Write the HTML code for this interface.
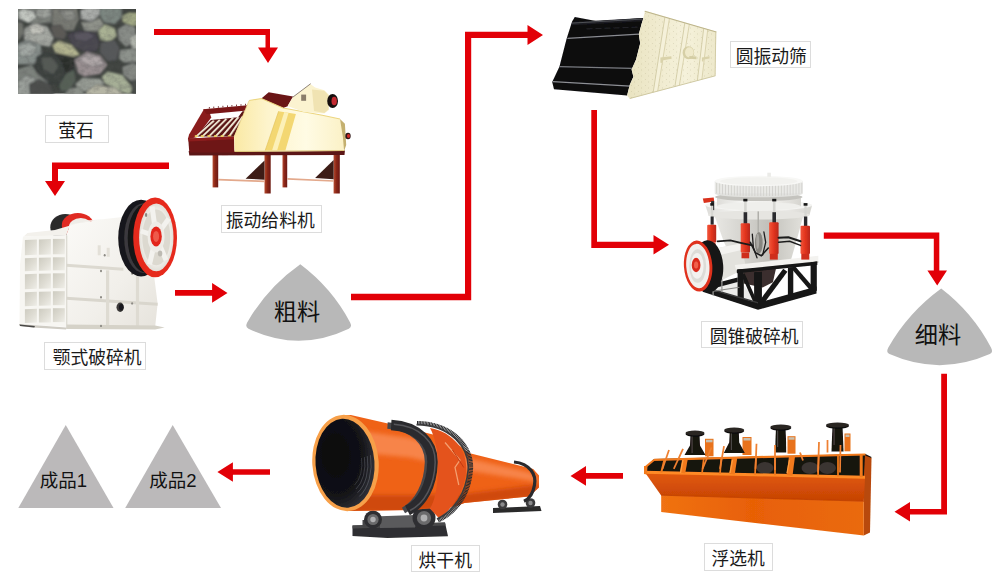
<!DOCTYPE html>
<html lang="zh-CN">
<head>
<meta charset="utf-8">
<title>萤石选矿工艺流程</title>
<style>
html,body{margin:0;padding:0;background:#fff;}
body{width:1000px;height:582px;overflow:hidden;position:relative;font-family:"Liberation Sans","Noto Sans CJK SC",sans-serif;}
svg{position:absolute;left:0;top:0;display:block;}
.lb{position:absolute;box-sizing:border-box;border:1px solid #dcdcdc;background:#fff;color:#1a1a1a;font-size:17.8px;line-height:30px;text-align:center;white-space:nowrap;height:27.5px;}
.pt{position:absolute;color:#111;white-space:nowrap;text-align:center;}
</style>
</head>
<body>
<svg width="1000" height="582" viewBox="0 0 1000 582">
<defs>
<filter id="rkb" x="-5%" y="-5%" width="110%" height="110%"><feGaussianBlur stdDeviation="0.9"/></filter>
<filter id="rkn" x="0" y="0" width="100%" height="100%"><feTurbulence type="fractalNoise" baseFrequency="0.16 0.2" numOctaves="3" seed="7" result="n"/><feColorMatrix in="n" type="matrix" values="0 0 0 0 0.1  0 0 0 0 0.1  0 0 0 0 0.1  0 0 0 -1.5 0.95"/></filter>
<clipPath id="rkc"><rect x="18" y="9" width="118" height="84.700"/></clipPath>
<filter id="sb4" x="-5%" y="-5%" width="110%" height="110%"><feGaussianBlur stdDeviation="0.45"/></filter>
<linearGradient id="fdleg" x1="0" x2="1" y1="0" y2="0"><stop offset="0" stop-color="#b54a30"/><stop offset="0.45" stop-color="#8a2618"/><stop offset="1" stop-color="#6a1a12"/></linearGradient>
<linearGradient id="fdbody" x1="0" x2="1" y1="0" y2="0"><stop offset="0" stop-color="#fae9a4"/><stop offset="0.3" stop-color="#fdf4cc"/><stop offset="0.65" stop-color="#fffbe4"/><stop offset="1" stop-color="#fbf1c6"/></linearGradient>

<linearGradient id="jwside" x1="0" x2="1" y1="0" y2="1"><stop offset="0" stop-color="#fbfaf7"/><stop offset="0.6" stop-color="#f1efea"/><stop offset="1" stop-color="#e6e3dc"/></linearGradient>
<linearGradient id="jwcell" x1="0" x2="1" y1="0" y2="1"><stop offset="0" stop-color="#cdcbc0"/><stop offset="0.55" stop-color="#dfddd4"/><stop offset="1" stop-color="#efeee8"/></linearGradient>
<radialGradient id="jwface" cx="0.5" cy="0.5" r="0.6"><stop offset="0" stop-color="#f7f6f2"/><stop offset="0.7" stop-color="#eceae4"/><stop offset="1" stop-color="#d4d1c8"/></radialGradient>

<linearGradient id="scpl" x1="0" x2="1" y1="0" y2="0"><stop offset="0" stop-color="#e9e3c0"/><stop offset="0.35" stop-color="#f0ebcf"/><stop offset="0.65" stop-color="#f5f1da"/><stop offset="1" stop-color="#ede8ca"/></linearGradient>
<pattern id="scsp" width="7" height="6" patternUnits="userSpaceOnUse"><rect x="1" y="1" width="0.8" height="0.7" fill="#a9a27c" opacity="0.45"/><rect x="4.300" y="3.600" width="0.7" height="0.8" fill="#b3ac86" opacity="0.6"/><rect x="5.800" y="0.8" width="0.6" height="0.6" fill="#fffdf0" opacity="0.8"/></pattern>

<linearGradient id="cnw" x1="0" x2="1" y1="0" y2="0"><stop offset="0" stop-color="#dddcd8"/><stop offset="0.3" stop-color="#f6f6f4"/><stop offset="0.7" stop-color="#efeeeb"/><stop offset="1" stop-color="#d6d5d0"/></linearGradient>
<linearGradient id="cnb" x1="0" x2="1" y1="0" y2="0"><stop offset="0" stop-color="#e9e8e4"/><stop offset="0.35" stop-color="#d3d2cd"/><stop offset="0.6" stop-color="#c2c1bb"/><stop offset="1" stop-color="#e2e1dc"/></linearGradient>
<linearGradient id="cnr" x1="0" x2="1" y1="0" y2="0"><stop offset="0" stop-color="#f2553a"/><stop offset="0.5" stop-color="#e2341e"/><stop offset="1" stop-color="#b8281a"/></linearGradient>

<linearGradient id="flf" x1="0" x2="0" y1="0" y2="1"><stop offset="0" stop-color="#e25a0c"/><stop offset="1" stop-color="#c54204"/></linearGradient>
<linearGradient id="fll" x1="0" x2="1" y1="0" y2="0"><stop offset="0" stop-color="#f07212"/><stop offset="0.45" stop-color="#e86006"/><stop offset="1" stop-color="#ea6a0e"/></linearGradient>

<filter id="drb" x="-10%" y="-10%" width="120%" height="120%"><feGaussianBlur stdDeviation="2.2"/></filter>
<radialGradient id="drin" cx="0.35" cy="0.4" r="0.75"><stop offset="0" stop-color="#08080c"/><stop offset="0.6" stop-color="#121216"/><stop offset="1" stop-color="#3a3b42"/></radialGradient>
<clipPath id="drc"><polygon points="342.5,415.5 350.8,415.0 389.0,423.8 435.0,435.0 455.0,442.0 468.8,453.0 533.2,469.0 539.0,475.5 539.0,487.5 529.0,496.5 464.5,503.0 455.0,506.5 410.0,510.0 346.2,511.0"/></clipPath>
</defs>
<!-- ARROWS -->
<g id="arrows" fill="#e20007">
  <!-- a1 -->
  <path d="M154 29h116v18.500h8l-10 15.500l-10-15.500h7.500v-12.500h-111.500z"/>
  <!-- a2 -->
  <path d="M169 162.500h-117v18.500h-7l10 15l10-15h-7v-12h111z"/>
  <!-- a3 -->
  <path d="M175 290h37.100v-7l15.400 9.900l-15.400 9.900v-7h-37.100z"/>
  <!-- a4 -->
  <path d="M351 293.800h114v-262.100h62.500v-6.700l15.500 10l-15.500 10v-7h-56.300v262.200h-120.200z"/>
  <!-- a5 -->
  <path d="M591.300 110h5.700v131.800h56.500v-6.800l15.500 9.800l-15.500 9.800v-6.600h-62.200z"/>
  <!-- a6 -->
  <path d="M823.800 232.500h115.500v38h7.700l-9.800 15l-9.800-15h6.400v-31.800h-110z"/>
  <!-- a7 -->
  <path d="M941.200 373.800h5.800v140.700h-37v7l-15.500-9.750l15.500-9.750v7h31.200z"/>
  <!-- a8 -->
  <path d="M623 473h-37v-7l-15.500 9.900l15.500 9.900v-7h37z"/>
  <!-- a9 -->
  <path d="M270 469.200h-37.100v-7l-15.500 9.800l15.500 9.800v-7h37.100z"/>
</g>
<!-- PILES -->
<g id="piles" fill="#b8b8b8">
  <path d="M300.3 264.3 Q331.7 287.8 350.1 322.4 Q352.5 327.1 348.8 328.7 Q298.6 352.7 248.5 328.7 Q244.8 327.1 247.2 322.4 Q267.4 287.5 300.3 264.3z"/>
  <path d="M941.2 288.6 Q972.7 312.7 991.1 347.8 Q993.5 352.5 989.8 354.1 Q939.6 376.3 889.5 354.1 Q885.8 352.5 888.2 347.8 Q908.3 312.5 941.2 288.6z"/>
  <path fill="#bbb9ba" d="M65.750 425L113.500 508H18.300z"/>
  <path fill="#bbb9ba" d="M172.700 425L221 508H125.200z"/>
</g>
<!-- MACHINES -->
<g id="rock">
<g clip-path="url(#rkc)"><rect x="18" y="9" width="118" height="84.700" fill="#3f433f"/>
<g filter="url(#rkb)" stroke-linejoin="round" transform="translate(77 51.35) scale(1.05) translate(-77 -51.35)">
<polygon fill="#7d817b" stroke="#23262a" stroke-opacity="0.4" stroke-width="0.9" points="18.1,8.9 54.7,8.9 52.9,24.0 37.5,25.8 18.1,20.6"/>
<polygon fill="#c3c7c1" stroke="#23262a" stroke-opacity="0.4" stroke-width="0.9" points="20.7,14.6 26.3,10.7 35.8,13.4 38.3,19.2 30.6,24.4 22.9,20.6"/>
<polygon fill="#9da19b" stroke="#23262a" stroke-opacity="0.4" stroke-width="0.9" points="38.3,11.2 51.2,10.3 52.9,17.2 44.4,20.6 37.5,17.2"/>
<polygon fill="#6f726c" stroke="#23262a" stroke-opacity="0.4" stroke-width="0.9" points="18.1,22.3 25.5,24.0 27.2,34.4 20.3,42.1 18.1,41.2"/>
<polygon fill="#a5a8a2" stroke="#23262a" stroke-opacity="0.4" stroke-width="0.9" points="27.2,29.2 35.8,24.0 48.7,27.5 55.0,38.7 51.2,47.2 39.2,45.0 26.3,40.4"/>
<polygon fill="#c2c3bb" stroke="#23262a" stroke-opacity="0.4" stroke-width="0.9" points="30.6,27.5 39.2,24.9 46.9,29.2 44.4,34.4 34.0,35.2"/>
<polygon fill="#7a7c75" stroke="#23262a" stroke-opacity="0.4" stroke-width="0.9" points="53.8,10.3 77.0,9.4 79.1,20.6 73.9,31.8 61.5,31.8 52.9,25.8"/>
<polygon fill="#8e908a" stroke="#23262a" stroke-opacity="0.4" stroke-width="0.9" points="59.8,12.9 73.6,12.0 76.1,20.6 66.7,22.3"/>
<polygon fill="#a9aca9" stroke="#23262a" stroke-opacity="0.4" stroke-width="0.9" points="80.1,12.0 85.6,9.4 99.3,9.4 98.5,17.2 90.7,23.2 80.4,20.6"/>
<polygon fill="#7c8680" stroke="#23262a" stroke-opacity="0.4" stroke-width="0.9" points="99.3,9.4 119.9,10.0 119.9,18.9 113.1,25.8 102.8,24.0 98.5,17.2"/>
<polygon fill="#a0a784" stroke="#23262a" stroke-opacity="0.4" stroke-width="0.9" points="119.9,17.2 126.8,14.1 135.9,14.6 135.9,26.6 128.5,27.5 119.9,23.2"/>
<polygon fill="#8f928a" stroke="#23262a" stroke-opacity="0.4" stroke-width="0.9" points="80.4,23.2 90.7,23.2 98.5,18.9 102.8,25.8 95.9,32.6 83.9,31.8"/>
<polygon fill="#a9b193" stroke="#23262a" stroke-opacity="0.4" stroke-width="0.9" points="96.7,31.8 103.6,25.4 113.1,29.2 115.1,36.9 107.9,42.6 99.3,40.4"/>
<polygon fill="#888c87" stroke="#23262a" stroke-opacity="0.4" stroke-width="0.9" points="115.6,30.1 123.4,25.4 132.8,28.3 133.7,42.9 123.4,47.2 116.5,40.4"/>
<polygon fill="#b0b4ac" stroke="#23262a" stroke-opacity="0.4" stroke-width="0.9" points="126.8,38.7 135.9,33.5 135.9,49.8 129.4,49.8"/>
<polygon fill="#4a4650" stroke="#23262a" stroke-opacity="0.4" stroke-width="0.9" points="67.5,35.2 78.7,31.3 94.2,33.5 98.5,42.9 95.9,51.5 83.9,51.5 71.8,45.5"/>
<polygon fill="#5a5661" stroke="#23262a" stroke-opacity="0.4" stroke-width="0.9" points="73.6,34.4 87.3,32.6 94.2,36.9 85.6,42.1 75.3,40.4"/>
<polygon fill="#5c5a57" stroke="#23262a" stroke-opacity="0.4" stroke-width="0.9" points="51.2,27.5 61.5,25.8 67.5,34.4 65.0,40.4 55.0,38.7"/>
<polygon fill="#b1b28e" stroke="#23262a" stroke-opacity="0.4" stroke-width="0.9" points="52.9,45.0 59.8,40.9 71.8,45.0 80.1,54.6 73.6,56.7 56.4,52.9"/>
<polygon fill="#8a928e" stroke="#23262a" stroke-opacity="0.4" stroke-width="0.9" points="18.1,45.0 28.9,40.4 42.6,45.0 43.5,55.0 35.8,63.9 18.1,63.9"/>
<polygon fill="#a1a7a3" stroke="#23262a" stroke-opacity="0.4" stroke-width="0.9" points="20.3,46.4 30.6,42.9 39.2,47.2 35.8,55.0 23.7,56.7"/>
<polygon fill="#3a3f3c" stroke="#23262a" stroke-opacity="0.4" stroke-width="0.9" points="38.3,56.7 46.9,51.5 61.5,58.4 66.7,72.1 59.8,83.3 47.8,80.7 37.5,68.7"/>
<polygon fill="#555a55" stroke="#23262a" stroke-opacity="0.4" stroke-width="0.9" points="42.6,56.7 52.9,56.7 59.8,65.3 54.7,73.9 44.4,68.7"/>
<polygon fill="#2c2d2b" stroke="#23262a" stroke-opacity="0.4" stroke-width="0.9" points="56.4,53.3 73.6,57.0 74.4,67.0 66.7,72.1 61.5,58.4"/>
<polygon fill="#9a9092" stroke="#23262a" stroke-opacity="0.4" stroke-width="0.9" points="74.4,59.3 86.4,51.5 99.3,55.0 106.2,64.4 99.3,73.0 83.9,75.6 77.9,72.1"/>
<polygon fill="#b0a8a9" stroke="#23262a" stroke-opacity="0.4" stroke-width="0.9" points="78.7,59.3 87.3,53.6 98.5,56.7 102.8,63.6 90.7,66.1"/>
<polygon fill="#56585a" stroke="#23262a" stroke-opacity="0.4" stroke-width="0.9" points="99.3,42.9 113.1,40.4 117.9,48.1 114.8,60.1 106.2,61.0 98.5,52.4"/>
<polygon fill="#8d928c" stroke="#23262a" stroke-opacity="0.4" stroke-width="0.9" points="117.9,49.8 130.2,48.4 135.9,51.5 135.9,61.8 121.7,62.2 116.8,58.4"/>
<polygon fill="#858984" stroke="#23262a" stroke-opacity="0.4" stroke-width="0.9" points="119.9,66.1 130.2,62.2 135.9,64.4 135.9,78.2 128.5,79.9 120.8,73.9"/>
<polygon fill="#a6af96" stroke="#23262a" stroke-opacity="0.4" stroke-width="0.9" points="100.2,75.6 106.2,70.4 119.9,73.5 130.2,85.9 127.7,92.8 116.5,89.3 103.6,82.1"/>
<polygon fill="#989d95" stroke="#23262a" stroke-opacity="0.4" stroke-width="0.9" points="75.3,82.5 82.1,76.4 99.3,77.3 103.6,82.5 92.5,87.6 78.7,91.0"/>
<polygon fill="#b5b5a4" stroke="#23262a" stroke-opacity="0.4" stroke-width="0.9" points="85.6,89.3 95.9,82.8 113.1,85.9 123.4,93.6 85.6,93.6"/>
<polygon fill="#7c817c" stroke="#23262a" stroke-opacity="0.4" stroke-width="0.9" points="18.1,68.7 34.0,63.9 39.2,72.1 49.5,80.7 55.5,93.6 18.1,93.6"/>
<polygon fill="#9a9f9a" stroke="#23262a" stroke-opacity="0.4" stroke-width="0.9" points="20.3,80.7 28.9,73.9 37.5,77.3 32.3,93.6 19.4,93.6"/>
<polygon fill="#4b4e4c" stroke="#23262a" stroke-opacity="0.4" stroke-width="0.9" points="31.5,82.5 40.9,78.2 51.2,82.5 55.5,93.6 32.3,93.6"/>
<polygon fill="#566157" stroke="#23262a" stroke-opacity="0.4" stroke-width="0.9" points="59.8,83.3 66.7,72.1 74.4,68.7 76.1,79.0 70.1,89.3 61.5,89.3"/>
<polygon fill="#8a8f88" stroke="#23262a" stroke-opacity="0.4" stroke-width="0.9" points="63.3,93.6 70.1,86.7 78.7,85.0 85.6,93.6"/>
<polygon fill="#4a4e49" stroke="#23262a" stroke-opacity="0.4" stroke-width="0.9" points="128.5,79.9 135.9,78.2 135.9,93.6 130.2,93.6"/>
</g>
<rect x="18" y="9" width="118" height="84.700" filter="url(#rkn)" opacity="0.4"/>
</g>
</g>
<g id="feeder">
<g filter="url(#sb4)">
<rect x="212.6" y="152.3" width="5.6" height="35.1" fill="url(#fdleg)" />
<rect x="264.5" y="152.3" width="6.2" height="41.2" fill="url(#fdleg)" />
<rect x="282.5" y="152.3" width="4.7" height="35.1" fill="url(#fdleg)" />
<rect x="333.6" y="152.3" width="6.2" height="41.2" fill="url(#fdleg)" />
<polygon points="218.1,178.7 264.5,180.6 264.5,182.2 218.1,180.4" fill="#e3a98c" />
<polygon points="287.2,178.1 333.6,180.2 333.6,181.8 287.2,179.7" fill="#e3a98c" />
<polygon points="245.6,178.7 264.5,160.6 264.5,179.7" fill="#3c1c16" />
<polygon points="315.1,178.1 333.6,159.9 333.6,179.3" fill="#3c1c16" />
<polygon points="188.7,150.9 344.9,150.5 344.5,155.0 189.3,155.4" fill="#5c1212" />
<polygon points="187.8,139.3 189.1,134.4 203.9,109.2 209.3,111.7 211.3,117.5 196.5,137.3" fill="#8a1c1c" />
<polygon points="203.1,109.2 247.4,105.3 247.4,110.5 206.8,114.2" fill="#7a1517" />
<rect x="208.9" y="107.0" width="0.8" height="1.6" fill="#5a1010" />
<rect x="213.4" y="106.6" width="0.8" height="1.6" fill="#5a1010" />
<rect x="217.9" y="106.2" width="0.8" height="1.6" fill="#5a1010" />
<rect x="222.5" y="105.8" width="0.8" height="1.6" fill="#5a1010" />
<rect x="227.0" y="105.4" width="0.8" height="1.6" fill="#5a1010" />
<rect x="231.5" y="105.0" width="0.8" height="1.6" fill="#5a1010" />
<rect x="236.1" y="104.6" width="0.8" height="1.6" fill="#5a1010" />
<rect x="240.6" y="104.2" width="0.8" height="1.6" fill="#5a1010" />
<rect x="245.2" y="103.8" width="0.8" height="1.6" fill="#5a1010" />
<polygon points="195.5,136.6 210.9,119.9 238.1,117.3 242.5,111.3 245.2,111.3 234.0,136.6" fill="#5a1212" />
<line x1="196.1" y1="136.6" x2="213.8" y2="120.8" stroke="#f3ecd8" stroke-width="1.86" />
<line x1="197.3" y1="136.6" x2="214.8" y2="120.8" stroke="#b9a89a" stroke-width="0.62" />
<rect x="194.8" y="135.2" width="2.9" height="1.9" fill="#ecd060" />
<line x1="202.1" y1="136.6" x2="219.8" y2="119.9" stroke="#f3ecd8" stroke-width="1.86" />
<line x1="203.3" y1="136.6" x2="220.8" y2="119.9" stroke="#b9a89a" stroke-width="0.62" />
<rect x="200.8" y="135.2" width="2.9" height="1.9" fill="#ecd060" />
<line x1="208.7" y1="136.6" x2="226.4" y2="118.9" stroke="#f3ecd8" stroke-width="1.86" />
<line x1="209.9" y1="136.6" x2="227.4" y2="118.9" stroke="#b9a89a" stroke-width="0.62" />
<rect x="207.4" y="135.2" width="2.9" height="1.9" fill="#ecd060" />
<line x1="215.3" y1="136.6" x2="233.0" y2="117.9" stroke="#f3ecd8" stroke-width="1.86" />
<line x1="216.5" y1="136.6" x2="234.0" y2="117.9" stroke="#b9a89a" stroke-width="0.62" />
<rect x="214.0" y="135.2" width="2.9" height="1.9" fill="#ecd060" />
<line x1="221.9" y1="136.6" x2="238.4" y2="117.1" stroke="#f3ecd8" stroke-width="1.86" />
<line x1="223.1" y1="136.6" x2="239.4" y2="117.1" stroke="#b9a89a" stroke-width="0.62" />
<rect x="220.6" y="135.2" width="2.9" height="1.9" fill="#ecd060" />
<line x1="229.1" y1="136.6" x2="242.7" y2="116.4" stroke="#f3ecd8" stroke-width="1.86" />
<line x1="230.3" y1="136.6" x2="243.7" y2="116.4" stroke="#b9a89a" stroke-width="0.62" />
<rect x="227.8" y="135.2" width="2.9" height="1.9" fill="#ecd060" />
<polygon points="188.2,138.5 234.0,136.4 234.4,152.5 189.3,152.5" fill="#6e1416" />
<polygon points="188.2,138.5 234.0,136.4 234.0,139.3 188.7,141.4" fill="#8c1e1e" />
<polygon points="260.8,98.9 268.7,92.3 293.0,96.4 287.6,106.3 283.1,108.0" fill="#6a1418" />
<polygon points="234.2,136.9 249.1,100.6 261.4,98.5 283.1,108.0 322.3,115.2 340.0,119.1 344.9,136.9 344.1,150.9 234.6,151.9" fill="url(#fdbody)" />
<polygon points="278.6,111.3 295.9,114.0 285.4,150.5 265.2,150.5" fill="#f3d772" />
<polygon points="284.3,112.1 288.5,112.9 277.1,150.5 272.0,150.5" fill="#fcf0b8" />
<line x1="278.6" y1="111.3" x2="265.2" y2="150.5" stroke="#e0bf58" stroke-width="0.62" />
<polyline points="249.1,100.6 261.4,98.5 283.1,108.0 322.3,115.2 340.0,119.1" fill="none" stroke="#ecd680" stroke-width="1.03" />
<line x1="234.2" y1="136.9" x2="249.1" y2="100.6" stroke="#ecd88c" stroke-width="0.82" />
<line x1="234.6" y1="151.5" x2="344.1" y2="150.5" stroke="#d9c070" stroke-width="0.82" />
<polygon points="340.0,119.1 344.9,123.7 346.2,145.1 344.1,150.9 342.9,136.9" fill="#c4b070" />
<polygon points="287.6,105.9 293.0,96.9 310.3,84.1 315.1,87.4 324.3,90.3 328.9,94.8 328.9,110.1 324.3,113.4 303.7,112.1" fill="#fbf3d0" />
<polygon points="312.0,89.4 324.3,90.7 328.5,95.2 328.5,109.6 324.3,112.9 314.0,111.1" fill="#f0e3b2" />
<line x1="292.6" y1="97.3" x2="310.7" y2="83.7" stroke="#4a3a30" stroke-width="0.62" />
<rect x="301.2" y="94.6" width="4.9" height="6.2" fill="#5a4a40" opacity="0.7"/>
<ellipse cx="332.6" cy="101.0" rx="5.4" ry="7.0" fill="#15110f" />
<ellipse cx="334.2" cy="101.0" rx="2.7" ry="4.3" fill="#c32a30" />
<ellipse cx="348.0" cy="136.0" rx="2.7" ry="3.3" fill="#2a1512" />
<ellipse cx="348.5" cy="136.0" rx="1.6" ry="2.1" fill="#d02a2a" />
</g>
</g>
<g id="jaw">
<g filter="url(#sb4)">
<ellipse cx="65.3" cy="227.4" rx="15.0" ry="13.5" fill="#2b2a2c" />
<ellipse cx="77.8" cy="225.4" rx="16.0" ry="12.5" fill="#e02a22" />
<ellipse cx="80.8" cy="227.4" rx="12.0" ry="9.5" fill="#efede8" />
<polygon points="66.1,235.4 70.3,224.4 104.7,218.9 122.7,216.9 124.7,264.8 154.1,276.0 157.6,303.4 155.1,327.6 66.1,327.1" fill="url(#jwside)" />
<polygon points="23.7,236.4 66.1,235.4 70.3,224.4 104.7,218.9 87.3,220.4 54.9,229.9 27.4,232.9" fill="#f3f1ec" />
<polygon points="66.1,263.8 123.4,267.8 123.4,270.8 66.1,266.8" fill="#dcd9d0" />
<polygon points="66.1,296.7 157.6,302.7 157.6,305.7 66.1,299.7" fill="#d9d6cd" />
<polygon points="106.0,270.3 109.2,270.3 109.2,327.1 106.0,327.1" fill="#dedbd2" />
<polygon points="135.9,276.0 139.1,276.8 139.1,327.6 135.9,327.6" fill="#dedbd2" />
<polygon points="66.1,324.6 155.1,325.6 164.6,327.6 155.1,329.6 66.1,329.1" fill="#d5d2c8" />
<polygon points="66.1,235.4 67.3,235.4 67.3,327.1 66.1,327.1" fill="#d8d5cc" />
<ellipse cx="101.0" cy="271.0" rx="1.0" ry="1.2" fill="#8c8a84" />
<ellipse cx="101.0" cy="297.2" rx="1.0" ry="1.2" fill="#8c8a84" />
<ellipse cx="101.0" cy="325.9" rx="1.0" ry="1.2" fill="#8c8a84" />
<ellipse cx="132.1" cy="273.5" rx="1.0" ry="1.2" fill="#8c8a84" />
<ellipse cx="132.1" cy="303.4" rx="1.0" ry="1.2" fill="#8c8a84" />
<ellipse cx="104.7" cy="255.3" rx="1.0" ry="1.2" fill="#8c8a84" />
<ellipse cx="134.6" cy="262.3" rx="1.0" ry="1.2" fill="#8c8a84" />
<rect x="97.7" y="245.3" width="3.0" height="10.0" fill="#e3e0d8" />
<rect x="106.7" y="247.8" width="3.0" height="9.0" fill="#e3e0d8" />
<ellipse cx="120.2" cy="307.2" rx="3.7" ry="4.7" fill="#3a3937" />
<ellipse cx="121.2" cy="307.2" rx="2.2" ry="3.2" fill="#16151a" />
<polygon points="23.0,236.4 66.1,234.9 66.1,327.1 19.5,324.1 20.0,264.8" fill="#f7f6f2" />
<polygon points="24.9,239.9 36.9,239.4 36.9,254.8 24.9,255.3" fill="url(#jwcell)" />
<polygon points="38.9,239.4 50.9,239.1 50.9,254.6 38.9,254.8" fill="url(#jwcell)" />
<polygon points="52.9,238.9 64.8,238.9 64.8,254.3 52.9,254.3" fill="url(#jwcell)" />
<polygon points="24.9,258.3 36.9,257.8 36.9,270.8 24.9,271.3" fill="url(#jwcell)" />
<polygon points="38.9,257.8 50.9,257.6 50.9,270.5 38.9,270.8" fill="url(#jwcell)" />
<polygon points="52.9,257.3 64.8,257.3 64.8,270.3 52.9,270.3" fill="url(#jwcell)" />
<polygon points="24.9,274.3 36.9,273.8 36.9,288.7 24.9,289.2" fill="url(#jwcell)" />
<polygon points="38.9,273.8 50.9,273.5 50.9,288.5 38.9,288.7" fill="url(#jwcell)" />
<polygon points="52.9,273.3 64.8,273.3 64.8,288.2 52.9,288.2" fill="url(#jwcell)" />
<polygon points="24.9,292.2 36.9,291.7 36.9,305.7 24.9,306.2" fill="url(#jwcell)" />
<polygon points="38.9,291.7 50.9,291.5 50.9,305.4 38.9,305.7" fill="url(#jwcell)" />
<polygon points="52.9,291.2 64.8,291.2 64.8,305.2 52.9,305.2" fill="url(#jwcell)" />
<polygon points="24.9,309.2 36.9,308.7 36.9,322.6 24.9,323.1" fill="url(#jwcell)" />
<polygon points="38.9,308.7 50.9,308.4 50.9,322.4 38.9,322.6" fill="url(#jwcell)" />
<polygon points="52.9,308.2 64.8,308.2 64.8,322.1 52.9,322.1" fill="url(#jwcell)" />
<polygon points="19.0,324.1 66.1,327.6 66.1,329.6 32.4,327.6 20.0,326.1" fill="#cfccc4" />
<polygon points="19.5,324.6 34.9,326.1 34.4,327.6 20.0,326.1" fill="#4a4846" />
<ellipse cx="141.1" cy="238.1" rx="22.9" ry="38.4" fill="#19181b" />
<ellipse cx="143.6" cy="238.1" rx="19.4" ry="34.9" fill="#3a393c" />
<ellipse cx="146.1" cy="238.1" rx="18.4" ry="34.4" fill="#141316" />
<ellipse cx="155.1" cy="237.4" rx="21.9" ry="39.9" fill="#e62a1e" />
<ellipse cx="156.3" cy="237.4" rx="17.2" ry="33.9" fill="url(#jwface)" />
<ellipse cx="156.3" cy="237.4" rx="14.0" ry="27.9" fill="#dcd9d0" />
<line x1="156.1" y1="236.4" x2="168.7" y2="218.6" stroke="#f3f2ee" stroke-width="4.99" />
<line x1="156.1" y1="236.4" x2="152.1" y2="206.5" stroke="#f3f2ee" stroke-width="4.99" />
<line x1="156.1" y1="236.4" x2="140.9" y2="231.0" stroke="#f3f2ee" stroke-width="4.99" />
<line x1="156.1" y1="236.4" x2="149.5" y2="264.4" stroke="#f3f2ee" stroke-width="4.99" />
<line x1="156.1" y1="236.4" x2="166.0" y2="260.1" stroke="#f3f2ee" stroke-width="4.99" />
<ellipse cx="156.1" cy="236.9" rx="8.5" ry="15.5" fill="#eeece7" />
<ellipse cx="156.1" cy="236.4" rx="5.7" ry="10.0" fill="#e3281e" />
<ellipse cx="156.1" cy="236.4" rx="3.0" ry="5.5" fill="#ee5a4c" />
<ellipse cx="160.1" cy="253.6" rx="2.2" ry="3.0" fill="#bdbab2" />
<ellipse cx="146.1" cy="214.9" rx="1.2" ry="2.0" fill="#8a8780" />
</g>
</g>
<g id="screen">
<g filter="url(#sb4)">
<polygon points="574.8,17.1 597.3,21.3 643.3,18.0 641.5,24.3 638.8,34.3 640.2,43.3 636.1,59.5 631.6,69.4 633.4,76.7 629.8,84.8 627.1,95.6 554.0,89.3 552.2,82.1 559.4,66.7 566.6,38.8 572.1,21.6" fill="#0b0b0f" />
<polygon points="572.1,22.0 643.3,18.0 642.4,21.3 571.7,25.3" fill="#1d1d22" />
<line x1="572.1" y1="23.1" x2="642.4" y2="19.1" stroke="#55575c" stroke-width="0.90" />
<line x1="567.4" y1="38.4" x2="639.0" y2="34.1" stroke="#8a8c90" stroke-width="1.08" />
<line x1="559.4" y1="66.6" x2="631.9" y2="68.4" stroke="#7a7c80" stroke-width="1.08" />
<line x1="552.9" y1="81.7" x2="630.1" y2="86.2" stroke="#8e9094" stroke-width="1.26" />
<line x1="586.5" y1="28.9" x2="638.8" y2="27.1" stroke="#3a3b40" stroke-width="0.54" stroke-dasharray="6 3"/>
<polygon points="645.1,10.8 716.3,31.6 715.4,75.8 629.8,98.8 627.1,95.6 629.8,84.8 633.4,76.7 631.6,69.4 636.1,59.5 640.2,43.3 638.8,34.3 641.5,24.3 643.3,18.0" fill="url(#scpl)" />
<polygon points="645.1,10.8 716.3,31.6 715.4,75.8 629.8,98.8 627.1,95.6 629.8,84.8 633.4,76.7 631.6,69.4 636.1,59.5 640.2,43.3 638.8,34.3 641.5,24.3 643.3,18.0" fill="url(#scsp)" />
<polygon points="664.9,17.1 669.4,18.6 657.7,91.1 653.2,92.3" fill="#f5f1da" />
<line x1="664.9" y1="17.1" x2="653.2" y2="92.3" stroke="#c9c198" stroke-width="0.72" />
<line x1="669.4" y1="18.6" x2="657.7" y2="91.1" stroke="#cfc79e" stroke-width="0.72" />
<polygon points="684.8,23.1 689.3,24.5 679.4,85.1 674.9,86.6" fill="#f5f1da" />
<line x1="684.8" y1="23.1" x2="674.9" y2="86.6" stroke="#c9c198" stroke-width="0.72" />
<line x1="689.3" y1="24.5" x2="679.4" y2="85.1" stroke="#cfc79e" stroke-width="0.72" />
<polygon points="703.7,28.5 707.7,29.8 701.9,79.4 697.4,80.4" fill="#f5f1da" />
<line x1="703.7" y1="28.5" x2="697.4" y2="80.4" stroke="#c9c198" stroke-width="0.72" />
<line x1="707.7" y1="29.8" x2="701.9" y2="79.4" stroke="#cfc79e" stroke-width="0.72" />
<line x1="644.7" y1="11.2" x2="716.3" y2="31.9" stroke="#bdb58c" stroke-width="1.08" />
<line x1="629.8" y1="98.5" x2="715.4" y2="75.8" stroke="#cbc49c" stroke-width="0.90" />
<line x1="715.8" y1="31.6" x2="715.1" y2="75.8" stroke="#cfc8a2" stroke-width="0.90" />
<polygon points="660.4,57.4 671.3,56.3 671.6,58.8 663.1,60.2 662.2,63.1 660.4,62.8" fill="#d9d2aa" />
<polygon points="701.9,57.4 709.5,56.3 709.5,58.4 703.7,59.5 703.4,61.7 701.9,61.3" fill="#d9d2aa" />
<ellipse cx="688.4" cy="52.7" rx="5.8" ry="6.5" fill="#d6cfa6" />
<ellipse cx="689.3" cy="52.3" rx="4.3" ry="5.1" fill="#efe9ca" />
<polygon points="689.3,55.9 696.5,56.6 696.5,59.2 689.3,58.8" fill="#d4cda4" />
</g>
</g>
<g id="cone">
<g filter="url(#sb4)">
<polygon points="743.6,270.7 774.2,268.1 776.0,268.6 772.9,282.3 762.6,287.4 743.6,283.6" fill="#3b2f2d" />
<polygon points="702.6,287.2 737.6,277.9 757.5,302.1" fill="#ececea" />
<polygon points="702.6,286.6 737.6,277.4 737.6,282.0 702.6,291.3" fill="#141414" />
<polygon points="713.7,213.5 803.9,213.5 796.1,242.3 789.7,264.2 735.6,266.0 724.0,242.3" fill="url(#cnb)" />
<polygon points="717.5,248.0 740.7,243.6 745.9,266.8 735.6,273.2 722.7,279.7" fill="#e3e2dd" />
<polygon points="717.5,248.0 740.7,243.6 741.5,250.1 718.8,255.2" fill="#f3f2ef" />
<polygon points="734.8,265.0 818.3,255.7 818.3,261.4 736.3,270.7" fill="#f3f2ef" />
<polygon points="736.3,270.2 818.3,260.9 818.3,262.9 736.3,272.2" fill="#c9c8c2" />
<polygon points="705.4,205.2 812.1,205.2 809.5,215.0 708.5,215.0" fill="url(#cnw)" />
<ellipse cx="758.8" cy="215.0" rx="50.8" ry="4.6" fill="#e6e5e1" />
<ellipse cx="758.8" cy="205.2" rx="53.4" ry="5.2" fill="#f4f4f2" />
<rect x="717.0" y="197.5" width="84.0" height="8.8" fill="url(#cnw)" />
<ellipse cx="758.8" cy="206.2" rx="42.0" ry="4.1" fill="#efefec" />
<ellipse cx="758.8" cy="197.0" rx="43.8" ry="4.1" fill="#c4c3be" />
<ellipse cx="758.8" cy="193.4" rx="44.1" ry="3.9" fill="#e2e2df" />
<rect x="714.7" y="181.0" width="88.1" height="12.4" fill="#e9e9e6" />
<rect x="716.2" y="183.0" width="0.9" height="10.3" fill="#d2d1cd" />
<rect x="719.2" y="183.0" width="0.9" height="11.0" fill="#d2d1cd" />
<rect x="722.1" y="183.0" width="0.9" height="11.4" fill="#d2d1cd" />
<rect x="725.1" y="183.0" width="0.9" height="11.8" fill="#d2d1cd" />
<rect x="728.0" y="183.0" width="0.9" height="12.0" fill="#d2d1cd" />
<rect x="730.9" y="183.0" width="0.9" height="12.3" fill="#d2d1cd" />
<rect x="733.9" y="183.0" width="0.9" height="12.5" fill="#d2d1cd" />
<rect x="736.8" y="183.0" width="0.9" height="12.6" fill="#d2d1cd" />
<rect x="739.7" y="183.0" width="0.9" height="12.8" fill="#d2d1cd" />
<rect x="742.7" y="183.0" width="0.9" height="12.9" fill="#d2d1cd" />
<rect x="745.6" y="183.0" width="0.9" height="13.0" fill="#d2d1cd" />
<rect x="748.6" y="183.0" width="0.9" height="13.0" fill="#d2d1cd" />
<rect x="751.5" y="183.0" width="0.9" height="13.1" fill="#d2d1cd" />
<rect x="754.4" y="183.0" width="0.9" height="13.1" fill="#d2d1cd" />
<rect x="757.4" y="183.0" width="0.9" height="13.1" fill="#d2d1cd" />
<rect x="760.3" y="183.0" width="0.9" height="13.1" fill="#d2d1cd" />
<rect x="763.2" y="183.0" width="0.9" height="13.1" fill="#d2d1cd" />
<rect x="766.2" y="183.0" width="0.9" height="13.1" fill="#d2d1cd" />
<rect x="769.1" y="183.0" width="0.9" height="13.0" fill="#d2d1cd" />
<rect x="772.1" y="183.0" width="0.9" height="13.0" fill="#d2d1cd" />
<rect x="775.0" y="183.0" width="0.9" height="12.9" fill="#d2d1cd" />
<rect x="777.9" y="183.0" width="0.9" height="12.8" fill="#d2d1cd" />
<rect x="780.9" y="183.0" width="0.9" height="12.6" fill="#d2d1cd" />
<rect x="783.8" y="183.0" width="0.9" height="12.5" fill="#d2d1cd" />
<rect x="786.8" y="183.0" width="0.9" height="12.3" fill="#d2d1cd" />
<rect x="789.7" y="183.0" width="0.9" height="12.0" fill="#d2d1cd" />
<rect x="792.6" y="183.0" width="0.9" height="11.8" fill="#d2d1cd" />
<rect x="795.6" y="183.0" width="0.9" height="11.4" fill="#d2d1cd" />
<rect x="798.5" y="183.0" width="0.9" height="10.9" fill="#d2d1cd" />
<rect x="801.4" y="183.0" width="0.9" height="10.2" fill="#d2d1cd" />
<ellipse cx="758.8" cy="181.0" rx="44.1" ry="5.2" fill="#f8f8f6" />
<ellipse cx="758.8" cy="181.2" rx="38.7" ry="3.9" fill="#f2f2ef" />
<rect x="767.3" y="172.7" width="3.6" height="4.1" fill="#ebebe8" />
<polygon points="702.8,198.5 713.7,197.5 714.2,201.6 703.9,203.1" fill="#d9301e" />
<rect x="711.1" y="201.1" width="3.1" height="9.0" fill="#2a2a2a" />
<rect x="744.1" y="199.3" width="2.6" height="12.9" fill="#d6d6d2" />
<rect x="743.6" y="212.2" width="3.6" height="11.6" fill="#2b2b2d" />
<rect x="743.3" y="198.8" width="4.1" height="2.6" fill="#161616" />
<rect x="772.9" y="199.3" width="2.6" height="12.9" fill="#d6d6d2" />
<rect x="772.4" y="212.2" width="3.6" height="10.8" fill="#2b2b2d" />
<rect x="772.2" y="198.8" width="4.1" height="2.6" fill="#161616" />
<rect x="804.4" y="203.7" width="2.3" height="12.9" fill="#d6d6d2" />
<rect x="803.9" y="216.5" width="3.4" height="9.8" fill="#2b2b2d" />
<rect x="803.6" y="203.1" width="3.9" height="2.6" fill="#161616" />
<rect x="711.1" y="203.7" width="2.1" height="12.9" fill="#d6d6d2" />
<rect x="710.6" y="216.5" width="3.1" height="8.2" fill="#2b2b2d" />
<rect x="710.3" y="203.1" width="3.6" height="2.6" fill="#161616" />
<rect x="707.2" y="224.8" width="9.0" height="17.5" fill="url(#cnr)" rx="1"/>
<rect x="708.0" y="242.3" width="7.5" height="5.7" fill="#cf2e1c" />
<rect x="740.7" y="223.2" width="9.3" height="29.4" fill="url(#cnr)" rx="1"/>
<rect x="741.5" y="252.6" width="7.7" height="5.7" fill="#cf2e1c" />
<rect x="769.1" y="222.2" width="9.5" height="31.7" fill="url(#cnr)" rx="1"/>
<rect x="769.8" y="253.9" width="8.0" height="5.7" fill="#cf2e1c" />
<rect x="800.5" y="225.8" width="9.5" height="28.1" fill="url(#cnr)" rx="1"/>
<rect x="801.3" y="253.9" width="8.0" height="5.7" fill="#cf2e1c" />
<rect x="757.5" y="211.4" width="1.5" height="20.6" fill="#b0afaa" />
<ellipse cx="758.8" cy="242.8" rx="3.9" ry="10.8" fill="#86857f" />
<ellipse cx="757.7" cy="241.3" rx="1.5" ry="7.7" fill="#a9a8a3" />
<polyline points="717.5,241.3 730.4,240.3 740.7,242.8 752.3,245.4" fill="none" stroke="#1c1c1c" stroke-width="1.80" stroke-linecap="round"/>
<polyline points="750.3,242.3 755.4,252.6 761.3,255.7 768.3,248.0" fill="none" stroke="#1c1c1c" stroke-width="1.55" stroke-linecap="round"/>
<polyline points="778.6,237.7 788.4,237.2 800.5,241.3" fill="none" stroke="#1c1c1c" stroke-width="2.06" stroke-linecap="round"/>
<polyline points="778.6,242.3 789.7,241.3 800.5,245.4" fill="none" stroke="#1c1c1c" stroke-width="1.55" stroke-linecap="round"/>
<polyline points="763.9,232.0 765.7,242.3 762.6,255.2" fill="none" stroke="#1c1c1c" stroke-width="1.29" stroke-linecap="round"/>
<polyline points="752.3,234.1 753.4,247.5 757.0,257.8" fill="none" stroke="#1c1c1c" stroke-width="1.29" stroke-linecap="round"/>
<polygon points="736.9,269.6 817.3,261.4 817.3,265.0 736.9,273.2" fill="#141414" />
<polygon points="737.6,269.6 743.8,269.1 743.8,300.6 737.6,298.5" fill="#141414" />
<polygon points="810.6,262.4 816.8,261.4 816.8,290.8 810.6,292.3" fill="#141414" />
<polygon points="787.9,267.6 793.3,267.1 793.3,295.9 787.9,297.0" fill="#141414" />
<line x1="760.1" y1="304.2" x2="785.3" y2="270.2" stroke="#141414" stroke-width="5.15" />
<line x1="793.0" y1="267.1" x2="812.9" y2="290.3" stroke="#141414" stroke-width="4.38" />
<line x1="743.0" y1="274.3" x2="754.9" y2="301.1" stroke="#141414" stroke-width="3.61" />
<polygon points="754.1,272.2 761.9,271.7 761.9,307.3 754.1,306.2" fill="#141414" />
<polygon points="702.6,286.6 758.0,302.9 758.0,309.8 702.6,291.8" fill="#141414" />
<polygon points="758.0,302.9 816.5,286.6 816.5,293.4 758.0,309.8" fill="#141414" />
<polygon points="702.6,286.1 758.0,301.9 758.0,303.4 702.6,287.7" fill="#3a3a3a" />
<polyline points="713.1,284.1 713.1,295.4" fill="none" stroke="#9a9a98" stroke-width="1.29" />
<polyline points="721.9,278.4 721.9,291.8" fill="none" stroke="#9a9a98" stroke-width="1.29" />
<polyline points="713.1,291.3 739.4,287.2" fill="none" stroke="#8a8a88" stroke-width="1.03" />
<ellipse cx="708.8" cy="266.0" rx="14.4" ry="25.8" fill="#151515" transform="rotate(-4 708.8 266.0)"/>
<ellipse cx="698.2" cy="266.0" rx="14.2" ry="25.5" fill="#e0301e" transform="rotate(-4 698.7 267.1)"/>
<ellipse cx="697.9" cy="266.0" rx="11.6" ry="22.2" fill="#f1f0ed" transform="rotate(-4 698.2 267.1)"/>
<ellipse cx="697.7" cy="266.0" rx="8.5" ry="16.8" fill="#dddcd7" />
<ellipse cx="697.2" cy="265.8" rx="6.4" ry="12.9" fill="#f3f2ef" />
<ellipse cx="696.1" cy="265.0" rx="4.4" ry="7.2" fill="#d92c1c" />
<ellipse cx="696.1" cy="265.0" rx="2.1" ry="3.6" fill="#f0604c" />
</g>
</g>
<g id="flot">
<g filter="url(#sb4)">
<rect x="705.0" y="438.8" width="8.5" height="17.5" fill="#e8721c" />
<rect x="706.0" y="439.8" width="6.5" height="2.5" fill="#c8c0b0" />
<rect x="742.5" y="437.0" width="9.0" height="18.0" fill="#e8721c" />
<rect x="743.5" y="438.0" width="7.0" height="2.5" fill="#c8c0b0" />
<rect x="787.5" y="436.2" width="8.0" height="17.5" fill="#e8721c" />
<rect x="788.5" y="437.2" width="6.0" height="2.5" fill="#c8c0b0" />
<rect x="844.5" y="433.5" width="6.0" height="17.8" fill="#e8721c" />
<rect x="845.5" y="434.5" width="4.0" height="2.5" fill="#c8c0b0" />
<polygon points="690.5,434.2 699.5,434.2 700.0,445.5 705.5,455.0 684.5,455.0 690.0,445.5" fill="#17120f" />
<ellipse cx="695.0" cy="434.0" rx="9.5" ry="2.8" fill="#0d0b0a" />
<ellipse cx="695.0" cy="433.0" rx="9.5" ry="2.5" fill="#2a2624" />
<rect x="691.5" y="436.5" width="1.2" height="16.5" fill="#4a4644" />
<polygon points="729.8,431.2 738.8,431.2 739.2,442.5 744.8,453.0 723.8,453.0 729.2,442.5" fill="#17120f" />
<ellipse cx="734.2" cy="431.0" rx="10.0" ry="2.8" fill="#0d0b0a" />
<ellipse cx="734.2" cy="430.0" rx="10.0" ry="2.5" fill="#2a2624" />
<rect x="730.8" y="433.5" width="1.2" height="16.5" fill="#4a4644" />
<polygon points="776.0,428.2 785.5,428.2 786.0,439.5 786.2,452.5 775.2,452.5 775.5,439.5" fill="#17120f" />
<ellipse cx="780.8" cy="428.0" rx="10.5" ry="2.8" fill="#0d0b0a" />
<ellipse cx="780.8" cy="427.0" rx="10.5" ry="2.5" fill="#2a2624" />
<rect x="777.0" y="430.5" width="1.2" height="16.5" fill="#4a4644" />
<polygon points="832.5,426.2 842.5,426.2 843.0,437.5 843.5,451.5 831.5,451.5 832.0,437.5" fill="#17120f" />
<ellipse cx="837.5" cy="426.0" rx="11.5" ry="2.8" fill="#0d0b0a" />
<ellipse cx="837.5" cy="425.0" rx="11.5" ry="2.5" fill="#2a2624" />
<rect x="833.5" y="428.5" width="1.2" height="16.5" fill="#4a4644" />
<polygon points="645.5,467.5 654.0,459.0 865.5,454.0 871.5,457.0 865.0,478.5 645.5,473.5" fill="#17120f" />
<ellipse cx="765.0" cy="468.0" rx="8.5" ry="6.0" fill="#3a3431" />
<ellipse cx="810.0" cy="468.0" rx="8.5" ry="6.0" fill="#3a3431" />
<ellipse cx="827.5" cy="468.0" rx="8.5" ry="6.0" fill="#3a3431" />
<polygon points="865.0,455.5 871.5,458.0 870.0,532.5 863.8,535.5 863.8,477.5" fill="#b8480a" />
<polygon points="645.0,472.5 865.0,477.5 863.8,501.5 661.2,495.5" fill="url(#flf)" />
<polygon points="661.2,495.0 863.8,501.0 863.8,535.5 661.2,512.0" fill="url(#fll)" />
<line x1="661.2" y1="495.2" x2="863.8" y2="501.2" stroke="#b83a02" stroke-width="0.75" />
<line x1="654.0" y1="459.8" x2="865.5" y2="454.5" stroke="#f27a1c" stroke-width="2.25" />
<line x1="645.0" y1="472.2" x2="865.0" y2="477.2" stroke="#ff8a26" stroke-width="3.00" />
<line x1="645.5" y1="467.0" x2="654.0" y2="460.0" stroke="#f27a1c" stroke-width="2.00" />
<polygon points="644.0,466.0 647.5,466.0 647.0,474.5 644.0,474.0" fill="#f27a1c" />
<line x1="664.5" y1="459.5" x2="661.2" y2="472.6" stroke="#f27a1c" stroke-width="2.00" />
<line x1="685.0" y1="459.0" x2="682.5" y2="473.1" stroke="#f27a1c" stroke-width="5.50" />
<line x1="703.8" y1="458.5" x2="702.0" y2="473.5" stroke="#f27a1c" stroke-width="1.75" />
<line x1="721.2" y1="458.1" x2="720.0" y2="474.0" stroke="#f27a1c" stroke-width="1.75" />
<line x1="734.5" y1="457.8" x2="732.0" y2="474.2" stroke="#f27a1c" stroke-width="5.50" />
<line x1="756.0" y1="457.2" x2="755.0" y2="474.7" stroke="#f27a1c" stroke-width="1.75" />
<line x1="775.0" y1="456.7" x2="775.0" y2="475.2" stroke="#f27a1c" stroke-width="1.75" />
<line x1="792.0" y1="456.3" x2="789.5" y2="475.5" stroke="#f27a1c" stroke-width="6.00" />
<line x1="818.8" y1="455.7" x2="818.0" y2="476.2" stroke="#f27a1c" stroke-width="1.75" />
<line x1="838.0" y1="455.2" x2="838.0" y2="476.6" stroke="#f27a1c" stroke-width="1.75" />
<line x1="861.2" y1="454.6" x2="861.2" y2="477.2" stroke="#f27a1c" stroke-width="3.00" />
<line x1="683.0" y1="460.0" x2="680.5" y2="473.0" stroke="#ffa040" stroke-width="1.25" />
<line x1="732.5" y1="460.0" x2="730.0" y2="473.0" stroke="#ffa040" stroke-width="1.25" />
<line x1="789.5" y1="460.0" x2="787.0" y2="473.0" stroke="#ffa040" stroke-width="1.25" />
<line x1="662.5" y1="468.8" x2="669.0" y2="450.0" stroke="#ee8030" stroke-width="1.75" />
<line x1="673.8" y1="468.8" x2="683.0" y2="448.8" stroke="#ee8030" stroke-width="1.75" />
<line x1="702.5" y1="468.8" x2="711.5" y2="447.5" stroke="#ee8030" stroke-width="1.75" />
<line x1="720.0" y1="468.8" x2="724.0" y2="446.2" stroke="#ee8030" stroke-width="1.75" />
<line x1="755.5" y1="468.8" x2="756.5" y2="443.8" stroke="#ee8030" stroke-width="1.75" />
<line x1="775.0" y1="470.0" x2="775.0" y2="445.0" stroke="#ee8030" stroke-width="1.75" />
<line x1="818.0" y1="472.5" x2="819.0" y2="442.0" stroke="#ee8030" stroke-width="1.75" />
<line x1="827.5" y1="440.0" x2="827.5" y2="452.5" stroke="#ee8030" stroke-width="1.75" />
<line x1="800.0" y1="452.5" x2="803.0" y2="460.5" stroke="#ee8030" stroke-width="1.75" />
<line x1="840.0" y1="472.5" x2="840.5" y2="445.0" stroke="#ee8030" stroke-width="1.75" />
</g>
</g>
<g id="dryer">
<g filter="url(#sb4)">
<polygon points="493.0,508.0 540.0,506.0 541.5,511.0 493.0,513.0" fill="#2a2a2c" />
<ellipse cx="502.5" cy="504.5" rx="4.8" ry="4.8" fill="#3a3a3c" />
<ellipse cx="502.5" cy="504.5" rx="2.2" ry="2.2" fill="#8a8a8c" />
<ellipse cx="530.5" cy="503.0" rx="4.8" ry="4.8" fill="#3a3a3c" />
<ellipse cx="530.5" cy="503.0" rx="2.2" ry="2.2" fill="#8a8a8c" />
<polygon points="352.5,525.5 445.0,522.5 448.0,536.2 387.5,538.0 352.5,536.0" fill="#2f2f31" />
<polygon points="352.5,525.5 445.0,522.5 445.5,525.5 352.5,528.5" fill="#4a4a4c" />
<polygon points="362.5,520.0 380.0,520.0 380.0,527.5 362.5,527.5" fill="#444446" />
<polygon points="380.0,516.2 415.0,515.0 415.0,527.5 380.0,528.0" fill="#5a5a5c" />
<ellipse cx="373.0" cy="519.5" rx="9.0" ry="9.0" fill="#2e2e30" />
<ellipse cx="373.0" cy="519.5" rx="5.6" ry="5.6" fill="#6a6a6c" />
<ellipse cx="373.0" cy="519.5" rx="2.7" ry="2.7" fill="#b0b0b2" />
<ellipse cx="424.0" cy="518.0" rx="11.5" ry="11.5" fill="#2e2e30" />
<ellipse cx="424.0" cy="518.0" rx="7.1" ry="7.1" fill="#6a6a6c" />
<ellipse cx="424.0" cy="518.0" rx="3.4" ry="3.4" fill="#b0b0b2" />
<polygon points="342.5,415.5 350.8,415.0 389.0,423.8 435.0,435.0 455.0,442.0 468.8,453.0 533.2,469.0 539.0,475.5 539.0,487.5 529.0,496.5 464.5,503.0 455.0,506.5 410.0,510.0 346.2,511.0" fill="#ef6218" />
<g clip-path="url(#drc)"><g filter="url(#drb)">
<polygon points="346.2,428.8 410.0,438.0 465.0,457.5 530.0,472.5 538.0,478.0 538.0,482.0 465.0,470.0 410.0,457.5 346.2,451.2" fill="#f7844a" />
<polygon points="347.5,513.0 410.0,512.0 465.0,504.5 529.0,497.5 540.0,487.0 538.0,484.5 465.0,493.8 410.0,495.0 347.5,495.0" fill="#cf4a10" />
</g></g>
<path d="M430.0 428.0C455.0 432.5 467.5 452.5 466.2 470.0C465.0 490.0 452.5 510.0 438.8 518.0L430.0 508.8C440.0 492.5 441.2 447.5 430.0 428.0Z" fill="#e4521c" />
<polyline points="445.0,442.5 460.0,460.0 455.0,467.5 458.8,485.0" fill="none" stroke="#f4a070" stroke-width="1.25" />
<polyline points="452.5,450.0 463.8,467.5" fill="none" stroke="#c23a10" stroke-width="1.00" />
<path d="M417.0 423.0C452.5 423.0 473.0 447.5 471.0 470.0C469.0 494.5 456.0 512.5 438.0 520.5" fill="none" stroke="#2b2b2d" stroke-width="4.00" stroke-dasharray="1.1 0.4"/>
<path d="M416.5 424.5C450.0 424.5 470.0 447.5 468.2 470.0C466.2 493.5 454.0 511.0 437.0 519.0" fill="none" stroke="#3a3a3c" stroke-width="1.75"/>
<path d="M387.5 425.5C413.0 427.0 428.5 443.0 428.0 462.5C427.2 484.5 418.0 502.5 403.5 510.5" fill="none" stroke="#47474b" stroke-width="6.50"/>
<path d="M391.2 425.0C417.5 426.5 433.0 442.5 432.5 462.5C431.8 485.0 422.5 503.0 407.5 510.5" fill="none" stroke="#2b2b2d" stroke-width="10.50"/>
<path d="M393.8 424.2C420.0 425.8 435.8 442.5 435.2 462.5C434.5 485.0 425.0 503.0 410.0 510.5" fill="none" stroke="#55555a" stroke-width="1.50"/>
<path d="M514.0 462.0C530.0 463.5 536.5 475.0 534.5 485.0C533.0 494.0 530.0 498.5 524.0 501.2" fill="none" stroke="#2b2b2d" stroke-width="3.25"/>
<ellipse cx="345.5" cy="463.0" rx="33.2" ry="48.2" fill="#f7a04a" transform="rotate(-4 345.5 463.0)"/>
<ellipse cx="345.0" cy="463.2" rx="29.5" ry="44.5" fill="url(#drin)" transform="rotate(-4 345.5 463.0)"/>
<path d="M359.4 496.4 A26.2 40.0 -4 0 0 370.5 455.2" fill="none" stroke="#7a7e88" stroke-width="0.9" opacity="0.50"/>
<path d="M357.6 492.7 A23.0 35.5 -4 0 0 367.3 456.1" fill="none" stroke="#7a7e88" stroke-width="0.9" opacity="0.45"/>
<path d="M356.0 489.0 A20.0 31.0 -4 0 0 364.4 457.1" fill="none" stroke="#7a7e88" stroke-width="0.9" opacity="0.40"/>
<path d="M354.4 485.2 A17.0 26.5 -4 0 0 361.5 457.9" fill="none" stroke="#7a7e88" stroke-width="0.9" opacity="0.35"/>
</g>
</g>
</svg>
<div class="lb" style="left:45.2px;top:115px;width:63.5px;padding-right:2px;">萤石</div>
<div class="lb" style="left:220.5px;top:205.3px;width:101.5px;padding-right:2px;">振动给料机</div>
<div class="lb" style="left:44.2px;top:342px;width:101.5px;padding-left:4.5px;">颚式破碎机</div>
<div class="lb" style="left:730px;top:40.7px;width:81px;padding-left:1.5px;">圆振动筛</div>
<div class="lb" style="left:701.2px;top:320.8px;width:101.5px;padding-left:4.5px;">圆锥破碎机</div>
<div class="lb" style="left:703.7px;top:543px;width:69px;">浮选机</div>
<div class="lb" style="left:410.5px;top:544.8px;width:69.5px;">烘干机</div>
<div class="pt" style="left:257px;top:295.5px;width:80px;font-size:23.2px;line-height:32px;">粗料</div>
<div class="pt" style="left:898px;top:318.5px;width:80px;font-size:23.2px;line-height:32px;">细料</div>
<div class="pt" style="left:23.5px;top:468px;width:80px;font-size:18.5px;line-height:26px;">成品1</div>
<div class="pt" style="left:133px;top:468px;width:80px;font-size:18.5px;line-height:26px;">成品2</div>
</body>
</html>
